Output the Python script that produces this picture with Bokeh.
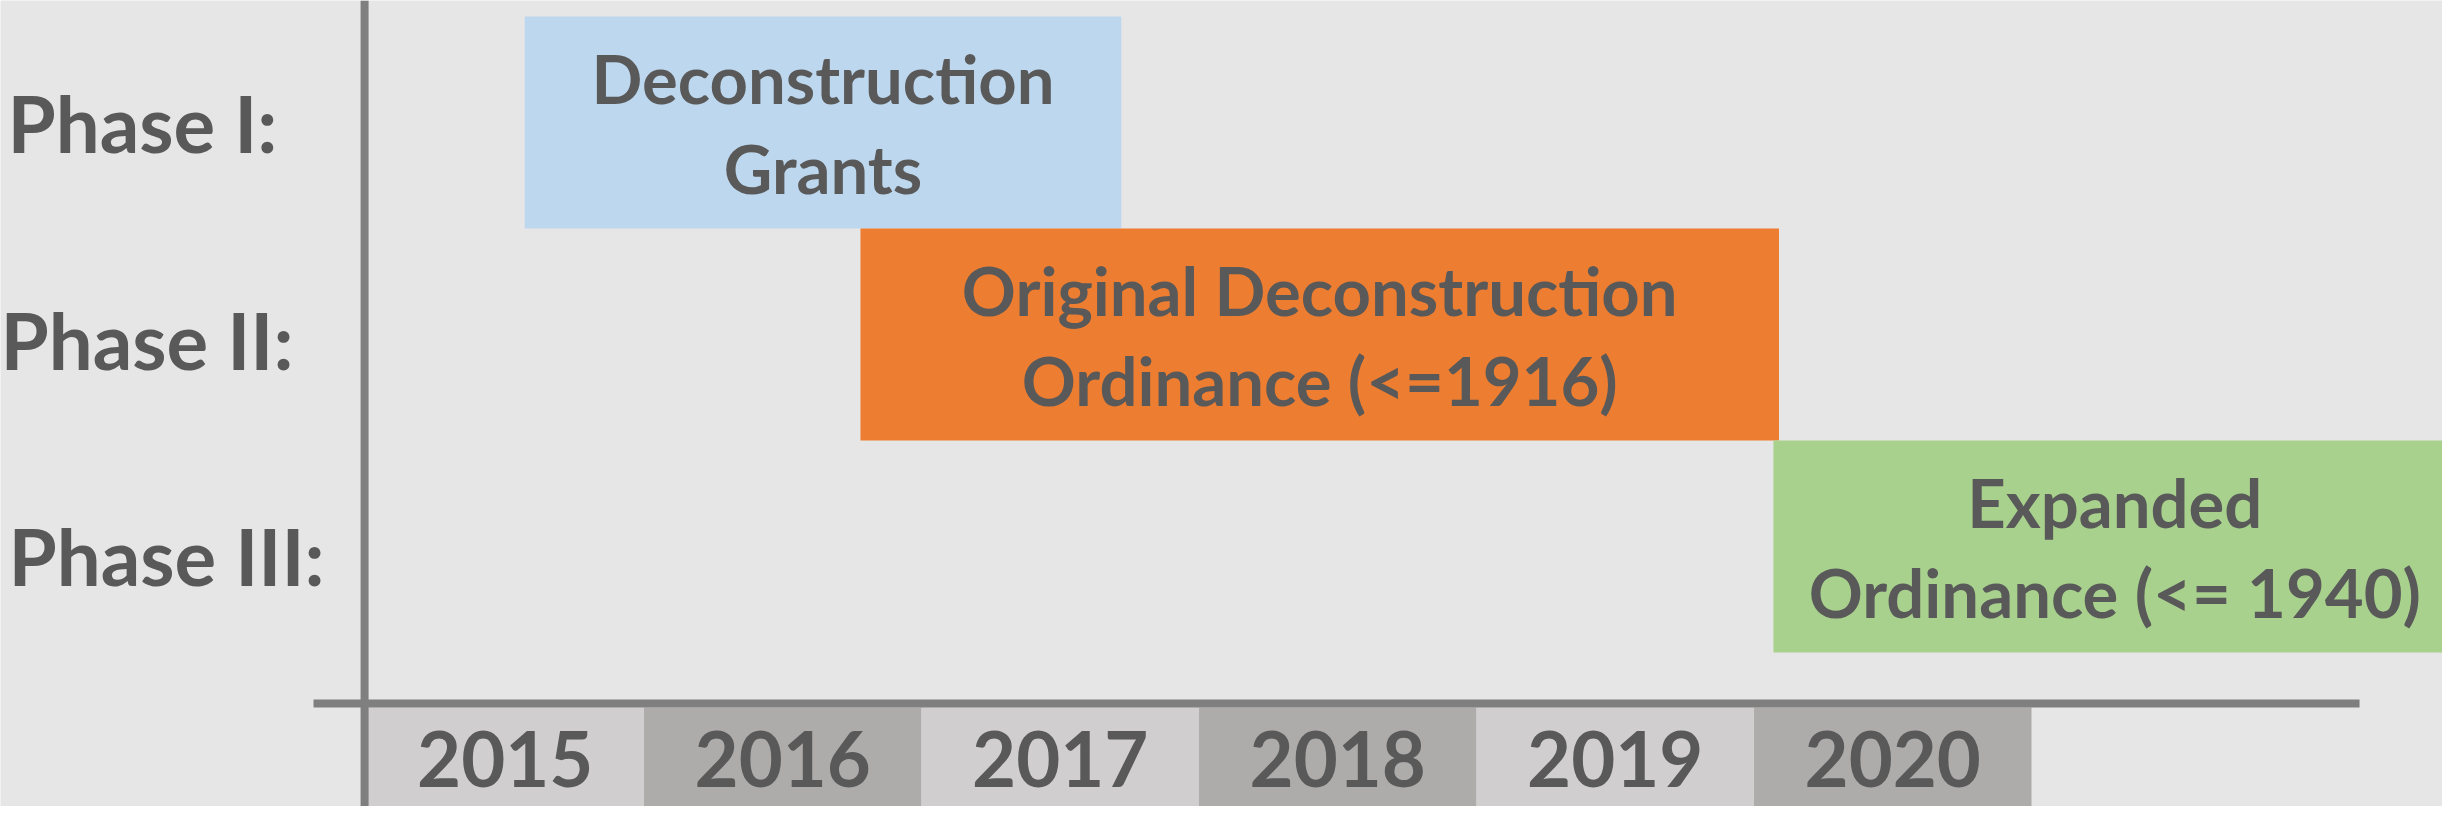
from bokeh.plotting import figure
from bokeh.models import Range1d, Span, ColumnDataSource
from bokeh.embed import file_html
from bokeh.resources import INLINE
from bokeh.core.properties import value

# ---------------- data ----------------
phases = ["Phase I:", "Phase II:", "Phase III:"]
bar_line1 = ["Deconstruction", "Original Deconstruction", "Expanded"]
bar_line2 = ["Grants", "Ordinance (<=1916)", "Ordinance (<= 1940)"]
bar_start = [2015.57, 2016.78, 2020.07]
bar_end = [2017.72, 2020.09, 2022.53]
bar_colors = ["#bdd7ee", "#ed7d31", "#a9d18e"]
years = [2015, 2016, 2017, 2018, 2019, 2020]
year_labels = ["2015", "2016", "2017", "2018", "2019", "2020"]

# ---------------- styles ----------------
BG = "#e7e6e6"
AXIS = "#7f7f7f"
TXT = "#595959"
CELL_COLORS = ["#d0cece", "#aeabab"]
FONT = value("Lato")
ROW_PX = 212.0          # pixel height of one phase row
ROW0_PX = 122.0         # pixel centre of first row
BAR_FS, LAB_FS, YEAR_FS = 67, 78, 76
FIX = 0.38              # baseline correction (em)

def py(px):
    """pixel row position -> row units"""
    return (px - ROW0_PX) / ROW_PX

W, H = 2442, 806
p = figure(width=W, height=H,
           x_range=Range1d(2013.681, 2022.481),
           y_range=Range1d(py(H), py(0)),
           output_backend="svg", toolbar_location=None,
           x_axis_location=None, y_axis_location=None, min_border=0)
p.grid.visible = False
p.outline_line_color = None
p.background_fill_color = BG
p.border_fill_color = BG

rows = list(range(len(phases)))

# bars
bars = ColumnDataSource(dict(
    left=bar_start, right=bar_end,
    top=[r - 0.5 for r in rows], bottom=[r + 0.5 for r in rows],
    color=bar_colors,
    cx=[(a + b) / 2 for a, b in zip(bar_start, bar_end)],
    y1=[r + (-19.5 - FIX * BAR_FS) / ROW_PX for r in rows],
    y2=[r + (70.5 - FIX * BAR_FS) / ROW_PX for r in rows],
    t1=bar_line1, t2=bar_line2,
))
p.quad(left="left", right="right", top="top", bottom="bottom",
       fill_color="color", line_color=None, source=bars)
for col_y, col_t in (("y1", "t1"), ("y2", "t2")):
    p.text(x="cx", y=col_y, text=col_t, source=bars,
           text_font=FONT, text_font_style="bold", text_font_size=f"{BAR_FS}px",
           text_color=TXT, text_align="center", text_baseline="alphabetic")

# year cells under the axis
cells = ColumnDataSource(dict(
    left=years, right=[y + 1 for y in years],
    color=[CELL_COLORS[i % 2] for i in range(len(years))],
    cx=[y + 0.5 for y in years], lab=year_labels,
))
p.quad(left="left", right="right", top=py(707), bottom=py(840),
       fill_color="color", line_color=None, source=cells)
p.text(x="cx", y=py(787 - FIX * YEAR_FS), text="lab", source=cells,
       text_font=FONT, text_font_style="bold", text_font_size=f"{YEAR_FS}px",
       text_color=TXT, text_align="center", text_baseline="alphabetic")

# axis lines
p.segment(x0=[2014.809], x1=[2022.182], y0=[py(703)], y1=[py(703)],
          line_color=AXIS, line_width=8)
p.add_layout(Span(location=2014.993, dimension="height",
                  line_color=AXIS, line_width=8))

# phase labels
label_px_left = [7, 0, 8]
label_base_px = [152, 369, 585]
labels = ColumnDataSource(dict(
    x=[p.x_range.start] * len(phases),
    y=[py(b - FIX * LAB_FS) for b in label_base_px],
    xo=label_px_left, t=phases,
))
p.text(x="x", y="y", x_offset="xo", text="t", source=labels,
       text_font=FONT, text_font_style="bold", text_font_size=f"{LAB_FS}px",
       text_color=TXT, text_align="left", text_baseline="alphabetic")

open("out.html", "w").write(file_html(p, INLINE))
